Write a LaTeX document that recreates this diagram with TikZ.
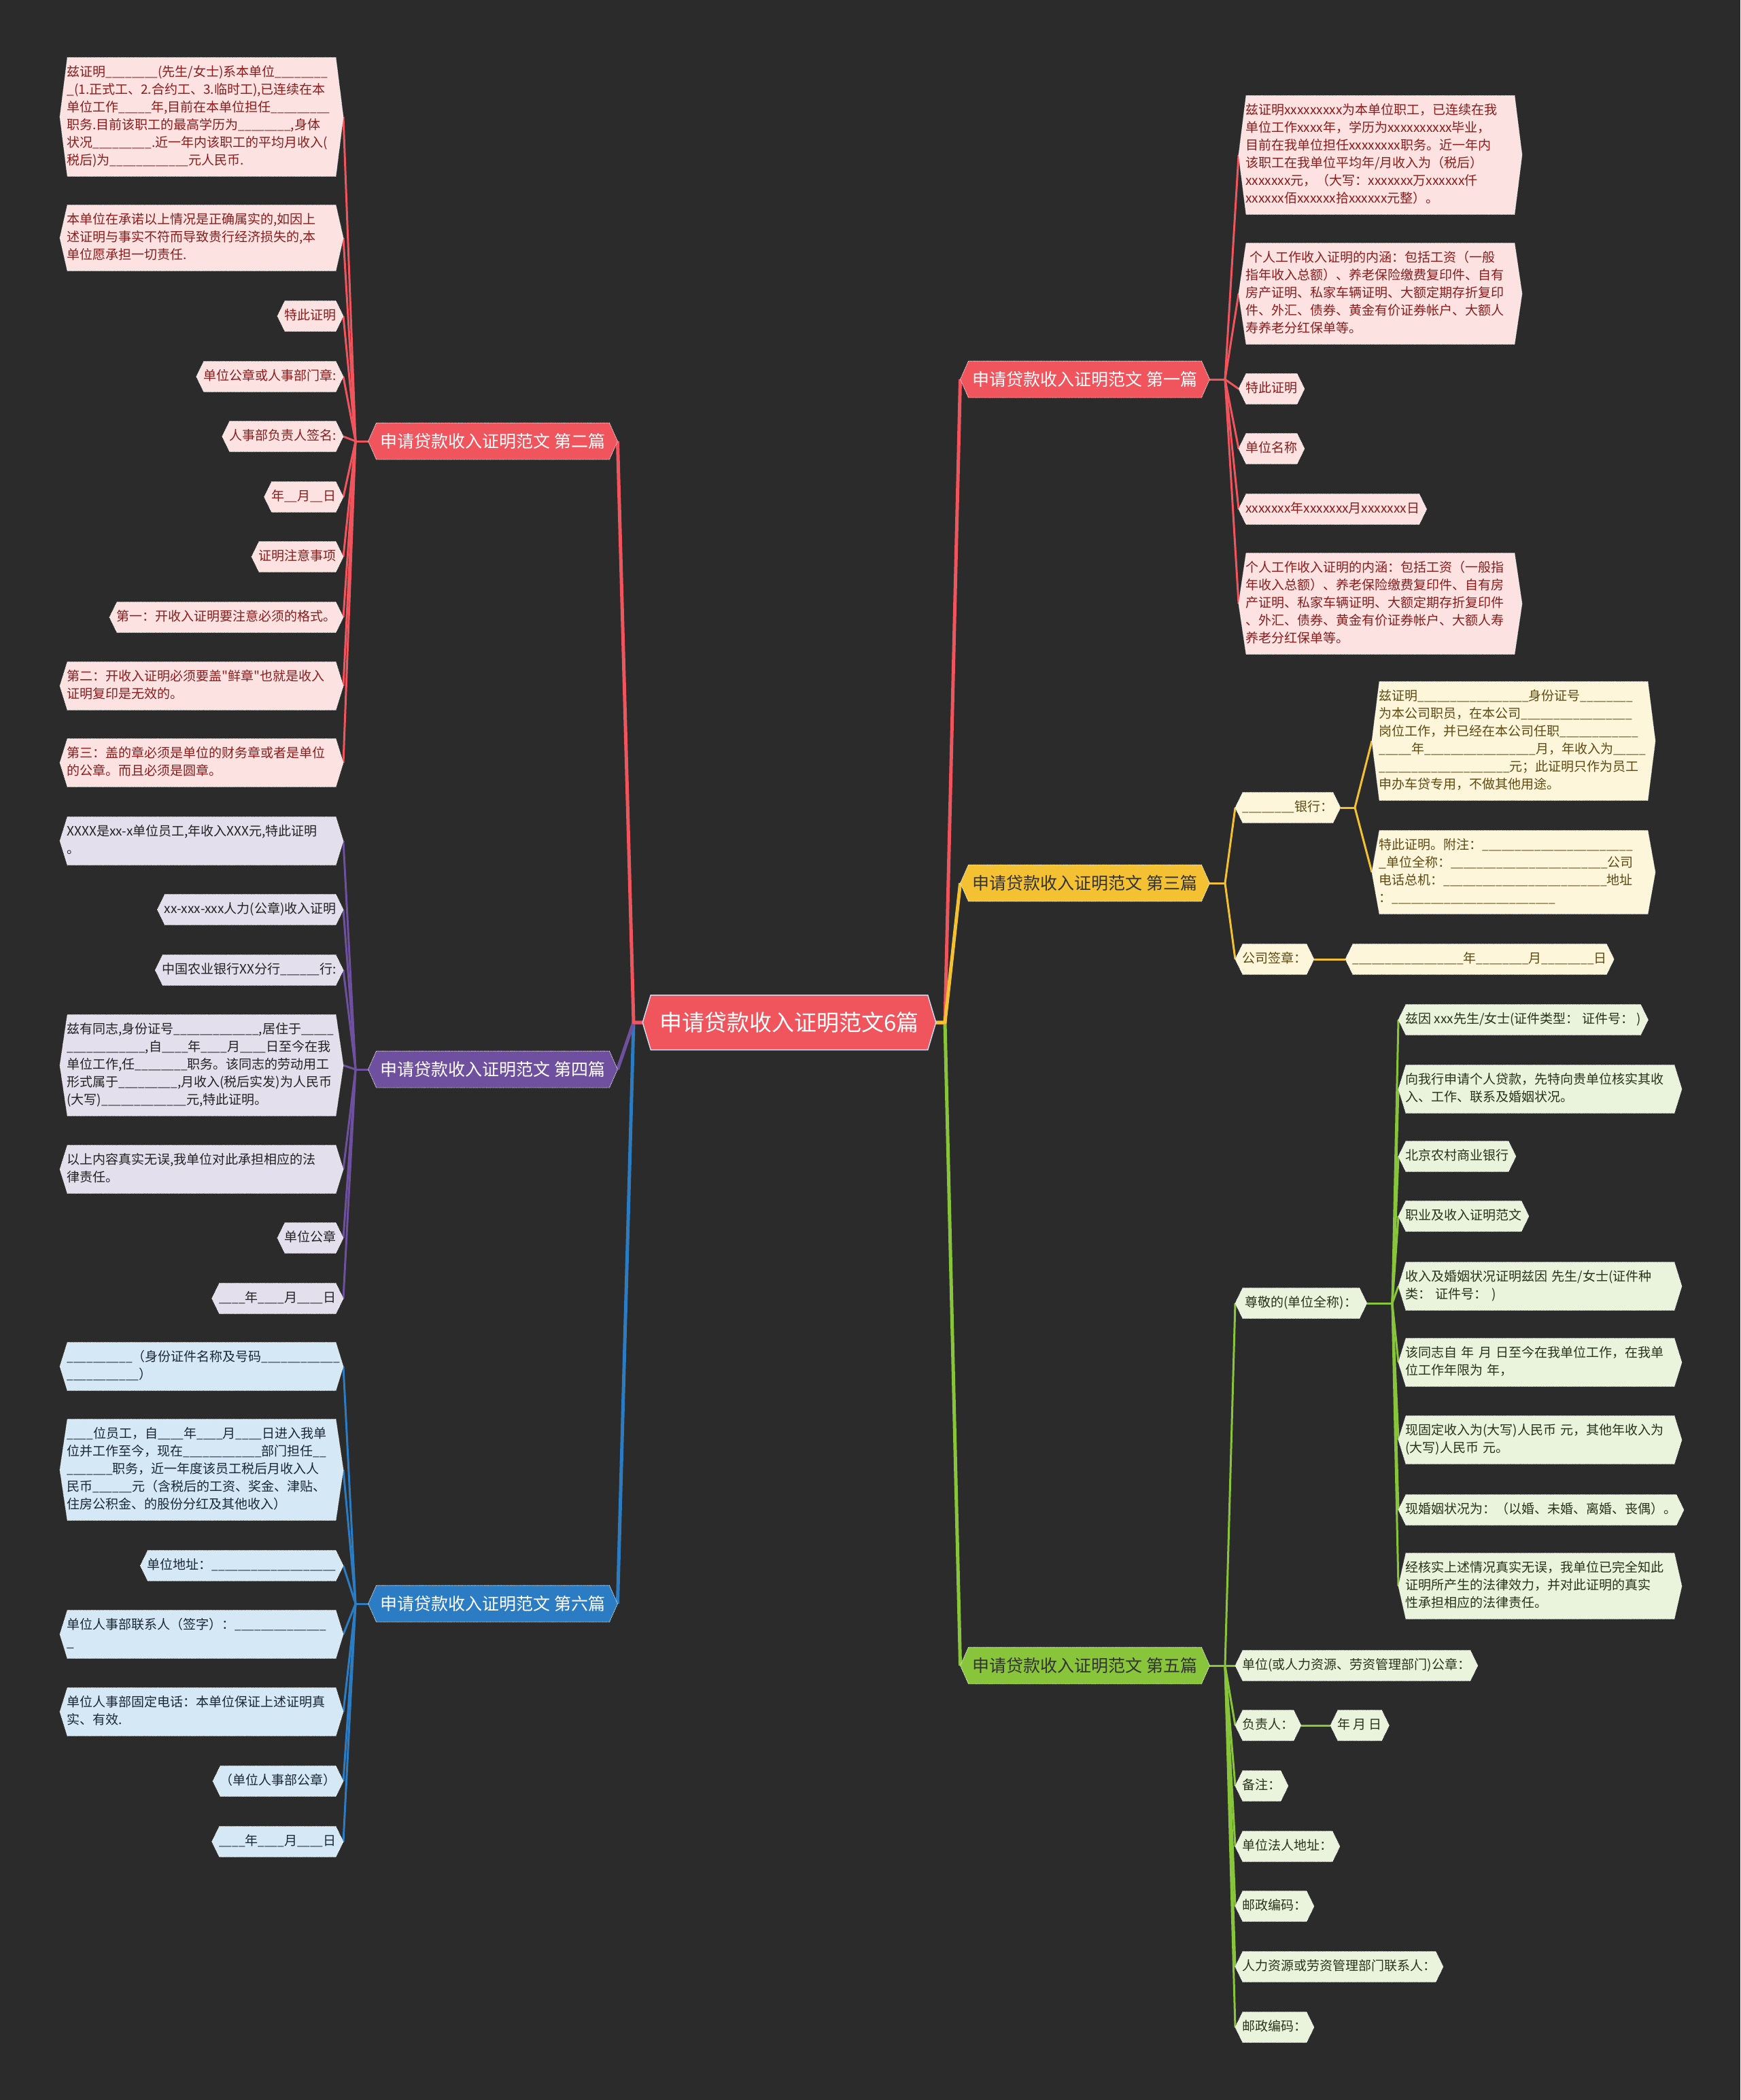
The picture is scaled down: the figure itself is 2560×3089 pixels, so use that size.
\documentclass[tikz,border=0pt]{standalone}
\usepackage{fontspec}
\setmainfont{Noto Sans CJK SC}
\newfontfamily\plainfont{Noto Sans CJK SC}
\pgfdeclarelayer{bg}
\pgfsetlayers{bg,main}
\ExplSyntaxOn
\cs_new:Npn \blk #1 { { \fontsize{17.2}{26} \selectfont \prg_replicate:nn {#1} { \_ } } }
\ExplSyntaxOff
\newcommand\dq{{\plainfont\symbol{34}}}
\makeatletter
\newdimen\hxa \newdimen\hya \newdimen\hxb \newdimen\hyb \newdimen\hym \newdimen\hcut
\def\hexcut{11pt}
\pgfdeclareshape{hexbox}{%
  \inheritsavedanchors[from=rectangle]%
  \inheritanchorborder[from=rectangle]%
  \inheritanchor[from=rectangle]{center}%
  \inheritanchor[from=rectangle]{north}%
  \inheritanchor[from=rectangle]{south}%
  \inheritanchor[from=rectangle]{east}%
  \inheritanchor[from=rectangle]{west}%
  \inheritanchor[from=rectangle]{north east}%
  \inheritanchor[from=rectangle]{north west}%
  \inheritanchor[from=rectangle]{south east}%
  \inheritanchor[from=rectangle]{south west}%
  \inheritanchor[from=rectangle]{base}%
  \inheritanchor[from=rectangle]{mid}%
  \backgroundpath{%
    \southwest \hxa=\pgf@x \hya=\pgf@y
    \northeast \hxb=\pgf@x \hyb=\pgf@y
    \hym=.5\hya \advance\hym by .5\hyb
    \hcut=\hexcut\relax
    \pgfpathmoveto{\pgfqpoint{\hxa}{\hym}}%
    \pgfpathlineto{\pgfqpoint{\dimexpr\hxa+\hcut\relax}{\hyb}}%
    \pgfpathlineto{\pgfqpoint{\dimexpr\hxb-\hcut\relax}{\hyb}}%
    \pgfpathlineto{\pgfqpoint{\hxb}{\hym}}%
    \pgfpathlineto{\pgfqpoint{\dimexpr\hxb-\hcut\relax}{\hya}}%
    \pgfpathlineto{\pgfqpoint{\dimexpr\hxa+\hcut\relax}{\hya}}%
    \pgfpathclose
  }%
}
\makeatother
\definecolor{bgc}{HTML}{2B2B2B}
\definecolor{cred}{HTML}{F0545C}
\definecolor{cpur}{HTML}{6E509E}
\definecolor{cblu}{HTML}{2B7CC3}
\definecolor{cyel}{HTML}{F3C132}
\definecolor{cgrn}{HTML}{88C53A}
\definecolor{lred}{HTML}{FDE2E2}
\definecolor{lpur}{HTML}{E3DFEC}
\definecolor{lblu}{HTML}{D5E8F6}
\definecolor{lyel}{HTML}{FDF6DA}
\definecolor{lgrn}{HTML}{EAF4DC}
\definecolor{tred}{HTML}{8A1C1C}
\definecolor{tpur}{HTML}{222222}
\definecolor{tblu}{HTML}{1A2733}
\definecolor{tyel}{HTML}{5E4A12}
\definecolor{tgrn}{HTML}{26331A}
\definecolor{tdark}{HTML}{333333}
\tikzset{
  hex cut/.code={\def\hexcut{#1}},
  hexbase/.style={shape=hexbox, draw=white, densely dotted, line width=0.9pt},
  leaf/.style={hexbase, inner xsep=10pt, inner ysep=9pt, font=\fontsize{19}{26}\selectfont, align=left, execute at begin node=\strut, execute at end node=\strut},
  leafw/.style={leaf, text width=396pt},
  lr/.style={fill=lred, text=tred},
  lp/.style={fill=lpur, text=tpur},
  lb/.style={fill=lblu, text=tblu},
  ly/.style={fill=lyel, text=tyel},
  lg/.style={fill=lgrn, text=tgrn},
  brn/.style={hexbase, font=\fontsize{25}{30}\selectfont, minimum width=366pt, minimum height=53pt, inner xsep=0pt, inner ysep=0pt, hex cut=12pt},
  lnk/.style={line width=3pt, solid, line join=round},
  mainlnk/.style={line width=5pt, solid, line join=round},
}
\begin{document}
\exhyphenpenalty=10000 \hyphenpenalty=10000
\begin{tikzpicture}[x=1pt,y=-1pt]
\begin{pgfonlayer}{bg}
\fill[bgc] (0,0) rectangle (2560,3089);
\end{pgfonlayer}

% centre
\node[hexbase, fill=cred, draw=white!75!cblu, solid, line width=1.5pt, text=white, font=\fontsize{33}{38}\selectfont, minimum width=430pt, minimum height=79pt, inner xsep=0pt, hex cut=12pt] (c) at (1161,1504) {申请贷款收入证明范文6篇};
\coordinate (cL) at (932,1504);
\coordinate (cR) at (1390,1504);

% ---------- 第二篇 ----------
\node[brn, fill=cred, text=white] (b2) at (725,649) {申请贷款收入证明范文 第二篇};
\coordinate (f2) at (523,649);
\node[leafw, lr, anchor=east] (b2a) at (505,172) {兹证明\blk{8}(先生/女士)系本单位\blk{8}\\\_(1.正式工、2.合约工、3.临时工),已连续在本\\单位工作\blk{5}年,目前在本单位担任\blk{9}\\职务.目前该职工的最高学历为\blk{8},身体\\状况\blk{9}.近一年内该职工的平均月收入(\\税后)为\blk{12}元人民币.};
\node[leafw, lr, anchor=east] (b2b) at (505,350) {本单位在承诺以上情况是正确属实的,如因上\\述证明与事实不符而导致贵行经济损失的,本\\单位愿承担一切责任.};
\node[leaf, lr, anchor=east] (b2c) at (505,465) {特此证明};
\node[leaf, lr, anchor=east] (b2d) at (505,554) {单位公章或人事部门章:};
\node[leaf, lr, anchor=east] (b2e) at (505,642) {人事部负责人签名:};
\node[leaf, lr, anchor=east] (b2f) at (505,731) {年\blk{2}月\blk{2}日};
\node[leaf, lr, anchor=east] (b2g) at (505,819) {证明注意事项};
\node[leaf, lr, anchor=east] (b2h) at (505,908) {第一：开收入证明要注意必须的格式。};
\node[leafw, lr, anchor=east] (b2i) at (505,1009) {第二：开收入证明必须要盖\dq 鲜章\dq 也就是收入\\证明复印是无效的。};
\node[leafw, lr, anchor=east] (b2j) at (505,1122) {第三：盖的章必须是单位的财务章或者是单位\\的公章。而且必须是圆章。};

% ---------- 第四篇 ----------
\node[brn, fill=cpur, text=white] (b4) at (725,1573) {申请贷款收入证明范文 第四篇};
\coordinate (f4) at (523,1573);
\node[leafw, lp, anchor=east] (b4a) at (505,1237) {XXXX是xx-x单位员工,年收入XXX元,特此证明\\。};
\node[leaf, lp, anchor=east] (b4b) at (505,1338) {xx-xxx-xxx人力(公章)收入证明};
\node[leaf, lp, anchor=east] (b4c) at (505,1427) {中国农业银行XX分行\blk{6}行:};
\node[leafw, lp, anchor=east] (b4d) at (505,1567) {兹有同志,身份证号\blk{13},居住于\blk{5}\\\blk{12},自\blk{4}年\blk{4}月\blk{4}日至今在我\\单位工作,任\blk{8}职务。该同志的劳动用工\\形式属于\blk{9},月收入(税后实发)为人民币\\(大写)\blk{13}元,特此证明。};
\node[leafw, lp, anchor=east] (b4e) at (505,1720) {以上内容真实无误,我单位对此承担相应的法\\律责任。};
\node[leaf, lp, anchor=east] (b4f) at (505,1821) {单位公章};
\node[leaf, lp, anchor=east] (b4g) at (505,1910) {\blk{4}年\blk{4}月\blk{4}日};

% ---------- 第六篇 ----------
\node[brn, fill=cblu, text=white] (b6) at (725,2359) {申请贷款收入证明范文 第六篇};
\coordinate (f6) at (523,2359);
\node[leafw, lb, anchor=east] (b6a) at (505,2010) {\blk{10}（身份证件名称及号码\blk{12}\\\blk{11}）};
\node[leafw, lb, anchor=east] (b6b) at (505,2162) {\blk{4}位员工，自\blk{4}年\blk{4}月\blk{4}日进入我单\\位并工作至今，现在\blk{12}部门担任\blk{2}\\\blk{7}职务，近一年度该员工税后月收入人\\民币\blk{6}元（含税后的工资、奖金、津贴、\\住房公积金、的股份分红及其他收入）};
\node[leaf, lb, anchor=east] (b6c) at (505,2303) {单位地址：\blk{19}};
\node[leafw, lb, anchor=east] (b6d) at (505,2404) {单位人事部联系人（签字）：\blk{14}\\\_};
\node[leafw, lb, anchor=east] (b6e) at (505,2518) {单位人事部固定电话：本单位保证上述证明真\\实、有效.};
\node[leaf, lb, anchor=east] (b6f) at (505,2620) {（单位人事部公章）};
\node[leaf, lb, anchor=east] (b6g) at (505,2709) {\blk{4}年\blk{4}月\blk{4}日};

% ---------- 第一篇 ----------
\node[brn, fill=cred, text=white] (b1) at (1596,558) {申请贷款收入证明范文 第一篇};
\coordinate (f1) at (1802,558);
\node[leafw, lr, anchor=west] (b1a) at (1822,228) {兹证明xxxxxxxxx为本单位职工，已连续在我\\单位工作xxxx年，学历为xxxxxxxxxx毕业，\\目前在我单位担任xxxxxxxx职务。近一年内\\该职工在我单位平均年/月收入为（税后）\\xxxxxxx元，（大写：xxxxxxx万xxxxxx仟\\xxxxxx佰xxxxxx拾xxxxxx元整）。};
\node[leafw, lr, anchor=west] (b1b) at (1822,432) {\hspace*{6pt}个人工作收入证明的内涵：包括工资（一般\\指年收入总额）、养老保险缴费复印件、自有\\房产证明、私家车辆证明、大额定期存折复印\\件、外汇、债券、黄金有价证券帐户、大额人\\寿养老分红保单等。};
\node[leaf, lr, anchor=west] (b1c) at (1822,572) {特此证明};
\node[leaf, lr, anchor=west] (b1d) at (1822,660) {单位名称};
\node[leaf, lr, anchor=west] (b1e) at (1822,749) {xxxxxxx年xxxxxxx月xxxxxxx日};
\node[leafw, lr, anchor=west] (b1f) at (1822,888) {个人工作收入证明的内涵：包括工资（一般指\\年收入总额）、养老保险缴费复印件、自有房\\产证明、私家车辆证明、大额定期存折复印件\\、外汇、债券、黄金有价证券帐户、大额人寿\\养老分红保单等。};

% ---------- 第三篇 ----------
\node[brn, fill=cyel, text=tdark] (b3) at (1596,1299) {申请贷款收入证明范文 第三篇};
\coordinate (f3) at (1802,1299);
\node[leaf, ly, anchor=west] (b3a) at (1817,1188) {\blk{8}银行：};
\node[leaf, ly, anchor=west] (b3b) at (1817,1411) {公司签章：};
\coordinate (f3a) at (1993,1188);
\node[leafw, ly, anchor=west] (b3c) at (2018,1090) {兹证明\blk{17}身份证号\blk{8}\\为本公司职员，在本公司\blk{17}\\岗位工作，并已经在本公司任职\blk{12}\\\blk{5}年\blk{17}月，年收入为\blk{5}\\\blk{20}元；此证明只作为员工\\申办车贷专用，不做其他用途。};
\node[leafw, ly, anchor=west] (b3d) at (2018,1283) {特此证明。附注：\blk{23}\\\_单位全称：\blk{24}公司\\电话总机：\blk{25}地址\\：\blk{25}};
\node[leaf, ly, anchor=west] (b3e) at (1979,1411) {\blk{17}年\blk{8}月\blk{8}日};

% ---------- 第五篇 ----------
\node[brn, fill=cgrn, text=tdark] (b5) at (1596,2450) {申请贷款收入证明范文 第五篇};
\coordinate (f5) at (1802,2450);
\node[leaf, lg, anchor=west, inner xsep=14pt] (b5a) at (1817,1917) {尊敬的(单位全称)：};
\coordinate (f5a) at (2048,1917);
\node[leaf, lg, anchor=west] (b5a1) at (2057,1500) {兹因~xxx先生/女士(证件类型：~证件号：~)};
\node[leafw, lg, anchor=west] (b5a2) at (2057,1602) {向我行申请个人贷款，先特向贵单位核实其收\\入、工作、联系及婚姻状况。};
\node[leaf, lg, anchor=west] (b5a3) at (2057,1701) {北京农村商业银行};
\node[leaf, lg, anchor=west] (b5a4) at (2057,1789) {职业及收入证明范文};
\node[leafw, lg, anchor=west] (b5a5) at (2057,1892) {收入及婚姻状况证明兹因~先生/女士(证件种\\类：~证件号：~)};
\node[leafw, lg, anchor=west] (b5a6) at (2057,2004) {该同志自~年~月~日至今在我单位工作，在我单\\位工作年限为~年，};
\node[leafw, lg, anchor=west] (b5a7) at (2057,2118) {现固定收入为(大写)人民币~元，其他年收入为\\(大写)人民币~元。};
\node[leaf, lg, anchor=west] (b5a8) at (2057,2221) {现婚姻状况为：（以婚、未婚、离婚、丧偶）。};
\node[leafw, lg, anchor=west] (b5a9) at (2057,2333) {经核实上述情况真实无误，我单位已完全知此\\证明所产生的法律效力，并对此证明的真实\\性承担相应的法律责任。};
\node[leaf, lg, anchor=west] (b5b) at (1817,2450) {单位(或人力资源、劳资管理部门)公章：};
\node[leaf, lg, anchor=west] (b5c) at (1817,2538) {负责人：};
\node[leaf, lg, anchor=west] (b5c1) at (1957,2538) {年~月~日};
\node[leaf, lg, anchor=west] (b5d) at (1817,2627) {备注：};
\node[leaf, lg, anchor=west] (b5e) at (1817,2716) {单位法人地址：};
\node[leaf, lg, anchor=west] (b5f) at (1817,2804) {邮政编码：};
\node[leaf, lg, anchor=west] (b5g) at (1817,2893) {人力资源或劳资管理部门联系人：};
\node[leaf, lg, anchor=west] (b5h) at (1817,2982) {邮政编码：};

% ---------- connectors ----------
\begin{pgfonlayer}{bg}
\draw[mainlnk,cblu] (c.west) -- (cL) -- (b6.east);
\draw[mainlnk,cpur] (c.west) -- (cL) -- (b4.east);
\draw[mainlnk,cred] (c.west) -- (cL) -- (b2.east);
\draw[mainlnk,cgrn] (c.east) -- (cR) -- (b5.west);
\draw[mainlnk,cred] (c.east) -- (cR) -- (b1.west);
\draw[mainlnk,cyel] (c.east) -- (cR) -- (b3.west);

\draw[lnk,cred] (b2.west) -- (f2);
\foreach \n in {b2a,b2b,b2c,b2d,b2e,b2f,b2g,b2h,b2i,b2j} \draw[lnk,cred] (f2) -- (\n.east);
\draw[lnk,cpur] (b4.west) -- (f4);
\foreach \n in {b4a,b4b,b4c,b4d,b4e,b4f,b4g} \draw[lnk,cpur] (f4) -- (\n.east);
\draw[lnk,cblu] (b6.west) -- (f6);
\foreach \n in {b6a,b6b,b6c,b6d,b6e,b6f,b6g} \draw[lnk,cblu] (f6) -- (\n.east);

\draw[lnk,cred] (b1.east) -- (f1);
\foreach \n in {b1a,b1b,b1c,b1d,b1e,b1f} \draw[lnk,cred] (f1) -- (\n.west);
\draw[lnk,cyel] (b3.east) -- (f3);
\foreach \n in {b3a,b3b} \draw[lnk,cyel] (f3) -- (\n.west);
\draw[lnk,cyel] (b3a.east) -- (f3a);
\foreach \n in {b3c,b3d} \draw[lnk,cyel] (f3a) -- (\n.west);
\draw[lnk,cyel] (b3b.east) -- (b3e.west);
\draw[lnk,cgrn] (b5.east) -- (f5);
\foreach \n in {b5a,b5b,b5c,b5d,b5e,b5f,b5g,b5h} \draw[lnk,cgrn] (f5) -- (\n.west);
\draw[lnk,cgrn] (b5a.east) -- (f5a);
\foreach \n in {b5a1,b5a2,b5a3,b5a4,b5a5,b5a6,b5a7,b5a8,b5a9} \draw[lnk,cgrn] (f5a) -- (\n.west);
\draw[lnk,cgrn] (b5c.east) -- (b5c1.west);
\end{pgfonlayer}
\end{tikzpicture}
\end{document}
